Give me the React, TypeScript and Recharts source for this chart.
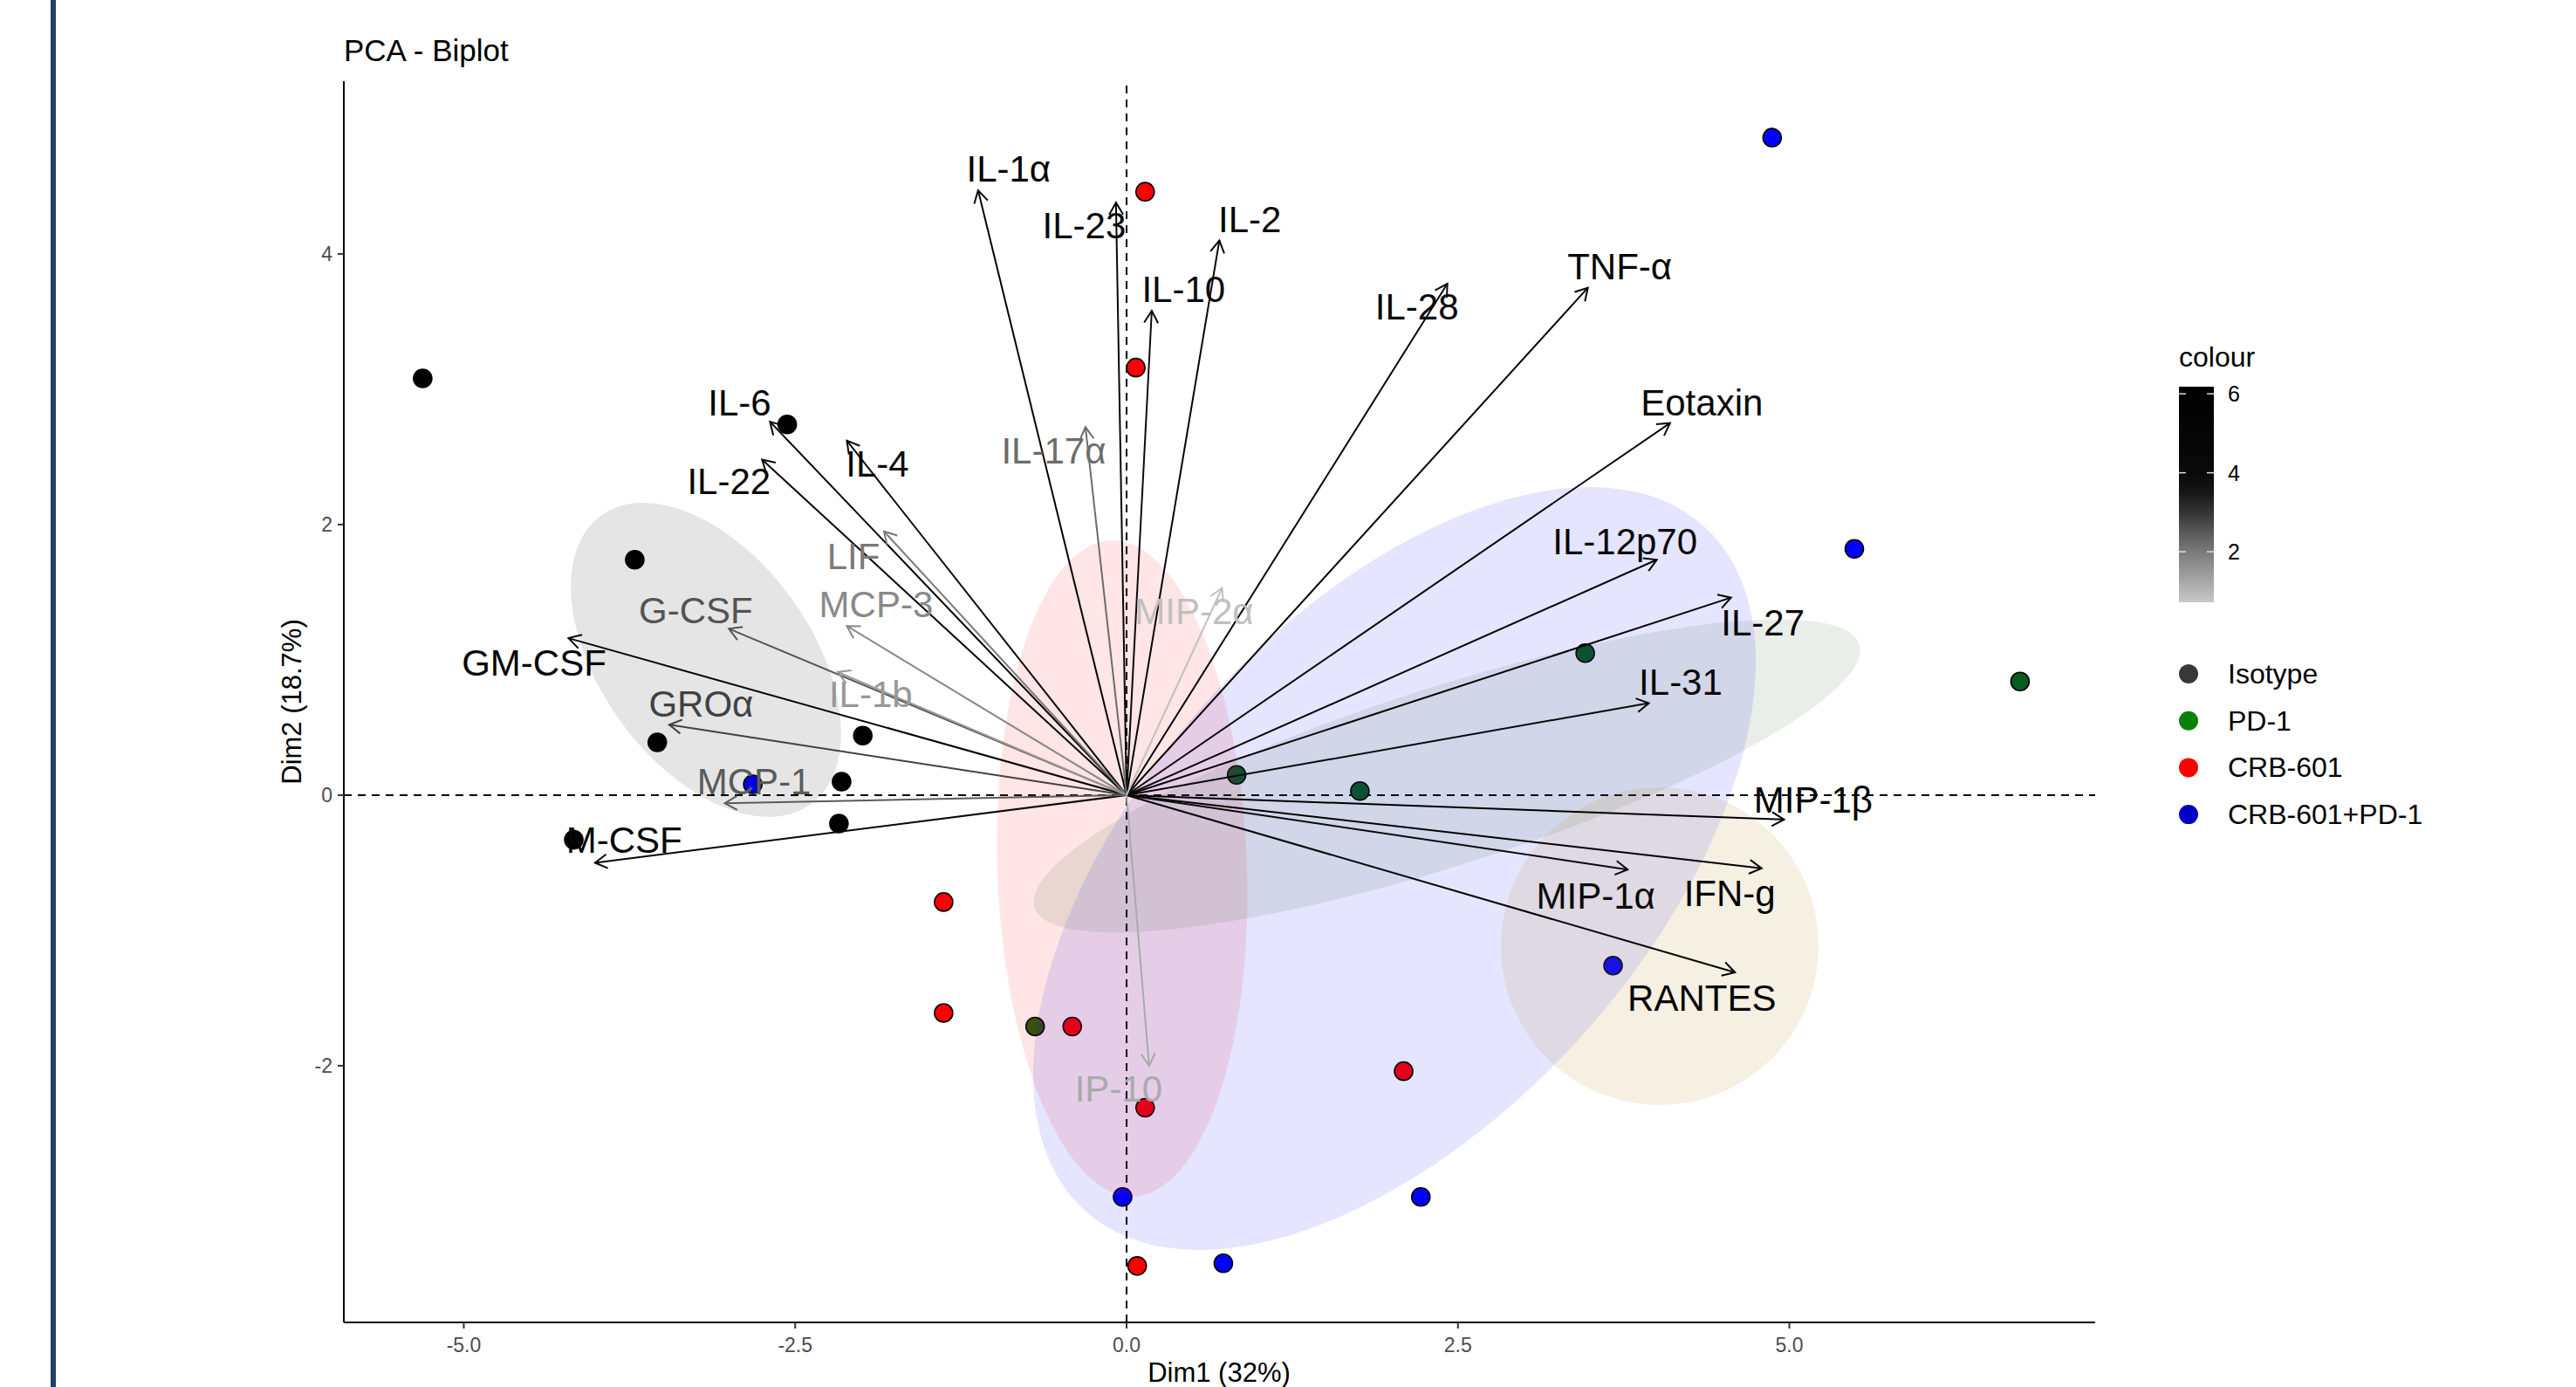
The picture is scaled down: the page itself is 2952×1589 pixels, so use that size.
import React from 'react'
import { ScatterChart, Scatter, XAxis, YAxis, ReferenceLine } from 'recharts'

const FONT = '"Liberation Sans", Arial, Helvetica, sans-serif'

// individuals on Dim1 / Dim2, by group
const isotypeX = [-5.31, -2.56, -3.71, -1.99, -3.54, -2.15, -2.17, -4.17]
const isotypeY = [3.08, 2.74, 1.74, 0.44, 0.39, 0.1, -0.21, -0.33]
const pd1X = [6.74, 3.46, 0.83, 1.76]
const pd1Y = [0.84, 1.05, 0.15, 0.03]
const oliveX = [-0.69]
const oliveY = [-1.71]
const crbX = [0.14, 0.07, -1.38, -1.38, -0.41, 2.09, 0.14, 0.08]
const crbY = [4.46, 3.16, -0.79, -1.61, -1.71, -2.04, -2.31, -3.48]
const comboX = [4.87, 5.49, -2.82, 3.67, -0.03, 2.22, 0.73]
const comboY = [4.86, 1.82, 0.08, -1.26, -2.97, -2.97, -3.46]

// variables (arrow tips), contribution colour and label spot
const varNames = ['IL-1α', 'IL-23', 'IL-2', 'IL-10', 'IL-28', 'TNF-α', 'Eotaxin', 'IL-12p70', 'IL-27', 'IL-31',
  'MIP-1β', 'IFN-g', 'MIP-1α', 'RANTES', 'IL-6', 'IL-22', 'IL-4', 'GM-CSF', 'M-CSF', 'IL-17α',
  'LIF', 'MCP-3', 'G-CSF', 'GROα', 'IL-1b', 'MCP-1', 'MIP-2α', 'IP-10']
const varX = [-1.12, -0.08, 0.70, 0.19, 2.42, 3.48, 4.10, 4.00, 4.56, 3.94,
  4.96, 4.79, 3.78, 4.59, -2.69, -2.75, -2.11, -4.21, -4.01, -0.31,
  -1.83, -2.11, -3.00, -3.45, -2.18, -3.03, 0.72, 0.17]
const varY = [4.47, 4.38, 4.10, 3.58, 3.78, 3.75, 2.75, 1.74, 1.46, 0.68,
  -0.18, -0.54, -0.55, -1.31, 2.76, 2.48, 2.62, 1.16, -0.50, 2.72,
  1.95, 1.25, 1.23, 0.52, 0.91, -0.06, 1.53, -2.00]
const varContrib = [5.2, 4.5, 4.9, 3.9, 4.4, 5.6, 4.3, 4.6, 5.1, 4.2,
  6.1, 5.8, 4.1, 5.4, 5.0, 4.7, 4.0, 5.3, 4.8, 2.2,
  2.0, 1.75, 2.55, 2.8, 1.5, 2.45, 0.85, 1.2]
const labelX = [-0.89, -0.32, 0.93, 0.43, 2.19, 3.72, 4.34, 3.76, 4.80, 4.18,
  5.18, 4.55, 3.54, 4.34, -2.92, -3.00, -1.88, -4.47, -3.79, -0.55,
  -2.06, -1.89, -3.25, -3.21, -1.93, -2.81, 0.51, -0.06]
const labelY = [4.63, 4.21, 4.26, 3.74, 3.61, 3.91, 2.90, 1.88, 1.28, 0.84,
  -0.03, -0.72, -0.74, -1.50, 2.90, 2.32, 2.45, 0.98, -0.33, 2.55,
  1.77, 1.41, 1.37, 0.68, 0.75, 0.10, 1.36, -2.17]

// ellipses: centre, end of major semi-axis, end of minor semi-axis
const ellipseNames = ['Isotype', 'CRB-601', 'CRB-601+PD-1', 'PD-1', 'other']
const ellCX = [-3.173, -0.033, 2.021, 2.416, 4.022]
const ellCY = [1.0, -0.542, -0.542, 0.142, -1.116]
const ellMajX = [-2.382, -0.119, 4.357, 5.527, 5.220]
const ellMajY = [-0.067, 1.882, 1.987, 1.115, -1.116]
const ellMinX = [-2.530, -0.974, 0.616, 2.212, 4.022]
const ellMinY = [1.458, -0.574, 0.704, 0.769, 0.058]
const ellFill = ['#000000', '#ff0000', '#0000ff', '#2f5a26', '#b08a1e']
const ellAlpha = [0.1, 0.1, 0.1, 0.1, 0.13]

const xTicks = [-5, -2.5, 0, 2.5, 5]
const yTicks = [-2, 0, 2, 4]

const legendNames = ['Isotype', 'PD-1', 'CRB-601', 'CRB-601+PD-1']
const legendColors = ['#383838', '#0a820a', '#ff0000', '#0000c4']
const barTicks = [6, 4, 2]

// colour scale of the variables (grey level by value)
const gradStops: [number, number][] = [[0.72, 200], [1.5, 152], [2, 122], [2.5, 88], [3, 52], [3.5, 22], [4, 10], [6.18, 0]]
const lvl = (g: number) => {
  const h = Math.round(g).toString(16).padStart(2, '0')
  return `#${h}${h}${h}`
}
function greyFor(v: number) {
  if (v <= gradStops[0][0]) return lvl(gradStops[0][1])
  for (let i = 1; i < gradStops.length; i++) {
    const [v0, g0] = gradStops[i - 1]
    const [v1, g1] = gradStops[i]
    if (v <= v1) return lvl(g0 + ((v - v0) / (v1 - v0)) * (g1 - g0))
  }
  return lvl(0)
}

const pts = (xs: number[], ys: number[]) => xs.map((x, i) => ({ x, y: ys[i] }))
const arrowData = [{ x: 0, y: 0 }, ...pts(varX, varY)]
const labelData = varNames.map((name, i) => ({ x: labelX[i], y: labelY[i], name, c: varContrib[i] }))

const none = () => <g />

const dot = (fill: string, stroke: string) => (p: any) => (
  <circle cx={p.cx} cy={p.cy} r={10.5} fill={fill} stroke={stroke} strokeWidth={1.6} />
)

const ellipseLine = (i: number) => (p: any) => {
  const [c, m, n] = p.points || []
  if (!c || !m || !n) return <g />
  const rx = Math.hypot(m.x - c.x, m.y - c.y)
  const ry = Math.hypot(n.x - c.x, n.y - c.y)
  const ang = (Math.atan2(m.y - c.y, m.x - c.x) * 180) / Math.PI
  return (
    <ellipse cx={c.x} cy={c.y} rx={rx} ry={ry} transform={`rotate(${ang} ${c.x} ${c.y})`}
      fill={ellFill[i]} fillOpacity={ellAlpha[i]} stroke="none" />
  )
}

const drawArrows = (p: any) => {
  const ps = p.points || []
  if (ps.length < 2) return <g />
  const o = ps[0]
  return (
    <g>
      {ps.slice(1).map((t: any, i: number) => {
        const col = greyFor(varContrib[i])
        const ang = Math.atan2(t.y - o.y, t.x - o.x)
        const L = 16
        const a = Math.PI / 6
        const h1 = `${t.x - L * Math.cos(ang - a)},${t.y - L * Math.sin(ang - a)}`
        const h2 = `${t.x - L * Math.cos(ang + a)},${t.y - L * Math.sin(ang + a)}`
        return (
          <g key={i} stroke={col} strokeWidth={2} fill="none">
            <line x1={o.x} y1={o.y} x2={t.x} y2={t.y} />
            <polyline points={`${h1} ${t.x},${t.y} ${h2}`} />
          </g>
        )
      })}
    </g>
  )
}

const varLabel = (p: any) => (
  <text x={p.cx} y={p.cy} dy={15} textAnchor="middle" fontSize={42} fontFamily={FONT}
    fill={greyFor(p.payload.c)}>{p.payload.name}</text>
)

const XTick = (p: any) => (
  <text x={p.x} y={p.y + 27} textAnchor="middle" fontSize={23} fill="#4d4d4d" fontFamily={FONT}>
    {Number(p.payload.value).toFixed(1)}
  </text>
)
const YTick = (p: any) => (
  <text x={p.x - 6} y={p.y + 8} textAnchor="end" fontSize={23} fill="#4d4d4d" fontFamily={FONT}>
    {p.payload.value}
  </text>
)

const barTop = 443
const barBottom = 690
const barY = (v: number) => barBottom - ((v - 0.72) / (6.18 - 0.72)) * (barBottom - barTop)

export default function App() {
  return (
    <div style={{ position: 'absolute', left: 0, top: 0, width: 2952, height: 1589, background: '#fff', overflow: 'hidden' }}>
      <div style={{ position: 'absolute', left: 58, top: 0, width: 6, height: 1589, background: '#243f6b' }} />
      <div style={{ position: 'absolute', left: 0, top: 0 }}>
        <ScatterChart width={2952} height={1589} margin={{ top: 93, right: 551, bottom: 0, left: 334 }}>
          <XAxis type="number" dataKey="x" domain={[-5.905, 7.307]} allowDataOverflow ticks={xTicks}
            height={74} tickSize={7} tickMargin={0} tick={XTick}
            axisLine={{ stroke: '#000', strokeWidth: 2 }} tickLine={{ stroke: '#333', strokeWidth: 2 }} />
          <YAxis type="number" dataKey="y" domain={[-3.897, 5.277]} allowDataOverflow ticks={yTicks}
            width={60} tickSize={7} tickMargin={0} tick={YTick}
            axisLine={{ stroke: '#000', strokeWidth: 2 }} tickLine={{ stroke: '#333', strokeWidth: 2 }} />
          <ReferenceLine y={0} stroke="#000" strokeWidth={2} strokeDasharray="9 7" />
          <ReferenceLine x={0} stroke="#000" strokeWidth={2} strokeDasharray="9 7" />

          <Scatter name="Isotype" data={pts(isotypeX, isotypeY)} shape={dot('#000', '#000')} isAnimationActive={false} />
          <Scatter name="PD-1" data={pts(pd1X, pd1Y)} shape={dot('#0a5c1e', '#000')} isAnimationActive={false} />
          <Scatter name="PD-1 (shaded)" data={pts(oliveX, oliveY)} shape={dot('#245a12', '#000')} isAnimationActive={false} />
          <Scatter name="CRB-601" data={pts(crbX, crbY)} shape={dot('#ff0000', '#000')} isAnimationActive={false} />
          <Scatter name="CRB-601+PD-1" data={pts(comboX, comboY)} shape={dot('#0000ff', '#000')} isAnimationActive={false} />

          {ellipseNames.map((n, i) => (
            <Scatter key={n} name={`ellipse ${n}`}
              data={[{ x: ellCX[i], y: ellCY[i] }, { x: ellMajX[i], y: ellMajY[i] }, { x: ellMinX[i], y: ellMinY[i] }]}
              shape={none} line={ellipseLine(i)} lineType="joint" isAnimationActive={false} />
          ))}

          <Scatter name="variables" data={arrowData} shape={none} line={drawArrows} lineType="joint" isAnimationActive={false} />
          <Scatter name="labels" data={labelData} shape={varLabel} isAnimationActive={false} />
        </ScatterChart>
      </div>

      <svg width={2952} height={1589} style={{ position: 'absolute', left: 0, top: 0, pointerEvents: 'none' }} fontFamily={FONT}>
        <defs>
          <linearGradient id="cbar" x1="0" y1="1" x2="0" y2="0">
            {gradStops.map(([v, g]) => (
              <stop key={v} offset={(v - 0.72) / (6.18 - 0.72)} stopColor={lvl(g)} />
            ))}
          </linearGradient>
        </defs>
        <text x={394} y={70} fontSize={35} fill="#000">PCA - Biplot</text>
        <text x={1397} y={1583} fontSize={31} fill="#000" textAnchor="middle">Dim1 (32%)</text>
        <text x={345} y={804} fontSize={31} fill="#000" textAnchor="middle" transform="rotate(-90 345 804)">Dim2 (18.7%)</text>

        <text x={2497} y={420} fontSize={32} fill="#000">colour</text>
        <rect x={2497} y={barTop} width={40} height={barBottom - barTop} fill="url(#cbar)" />
        {barTicks.map((v) => (
          <g key={v}>
            <line x1={2497} x2={2505} y1={barY(v)} y2={barY(v)} stroke="#ddd" strokeWidth={1.5} />
            <line x1={2529} x2={2537} y1={barY(v)} y2={barY(v)} stroke="#ddd" strokeWidth={1.5} />
            <text x={2553} y={barY(v) + 9} fontSize={25} fill="#000">{v}</text>
          </g>
        ))}

        {legendNames.map((n, i) => (
          <g key={n}>
            <circle cx={2508} cy={772 + i * 53.7} r={11} fill={legendColors[i]} />
            <text x={2553} y={772 + i * 53.7 + 11} fontSize={32} fill="#000">{n}</text>
          </g>
        ))}
      </svg>
    </div>
  )
}
